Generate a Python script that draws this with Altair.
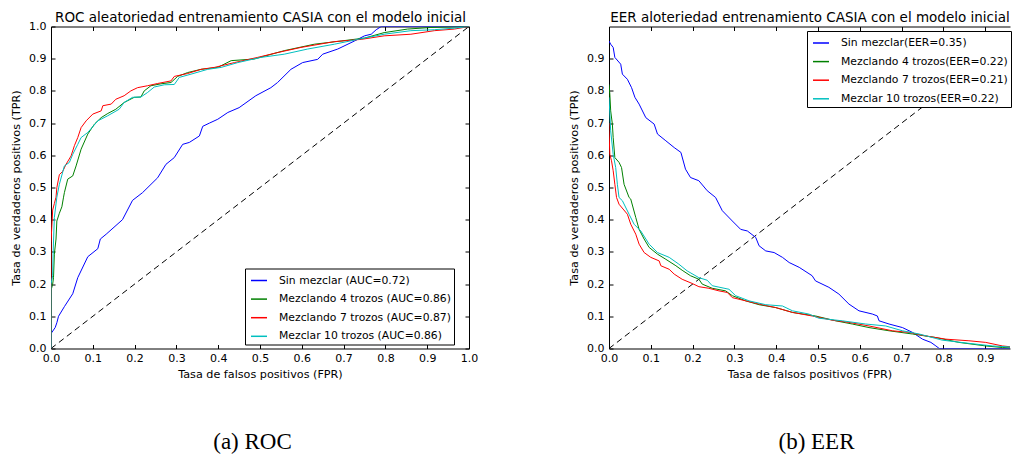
import altair as alt
import pandas as pd

# ------------------------------------------------------------------ data
ROC_LABELS = ["Sin mezclar (AUC=0.72)", "Mezclando 4 trozos (AUC=0.86)",
              "Mezclando 7 trozos (AUC=0.87)", "Mezclar 10 trozos (AUC=0.86)"]
EER_LABELS = ["Sin mezclar(EER=0.35)", "Mezclando 4 trozos(EER=0.22)",
              "Mezclando 7 trozos(EER=0.21)", "Mezclar 10 trozos(EER=0.22)"]
COLORS = ["#0000ff", "#008000", "#ff0000", "#00bfbf"]

X_TICKS_ROC = [0.0, 0.1, 0.2, 0.3, 0.4, 0.5, 0.6, 0.7, 0.8, 0.9, 1.0]
X_TICKS_EER = [0.0, 0.1, 0.2, 0.3, 0.4, 0.5, 0.6, 0.7, 0.8, 0.9]
Y_TICKS_ROC = [0.0, 0.1, 0.2, 0.3, 0.4, 0.5, 0.6, 0.7, 0.8, 0.9, 1.0]
Y_TICKS_EER = [0.0, 0.1, 0.2, 0.3, 0.4, 0.5, 0.6, 0.7, 0.8, 0.9]
X_MAX_ROC = 1.0
X_MAX_EER = 0.9593   # the reference image is cut off on the right of this panel

DIAG_X = [0.0, 1.0]
DIAG_Y = [0.0, 1.0]

# ROC curves (FPR, TPR)
ROC_SIN_FPR = [0, 0, 0.002, 0.01, 0.014, 0.018, 0.032, 0.052, 0.064, 0.088,
               0.112, 0.118, 0.132, 0.171, 0.195, 0.219, 0.255, 0.275, 0.295, 0.315,
               0.331, 0.355, 0.363, 0.379, 0.399, 0.423, 0.45, 0.49, 0.526, 0.542,
               0.574, 0.602, 0.638, 0.65, 0.686, 0.726, 0.75, 0.766, 0.778, 0.79, 1.0]
ROC_SIN_TPR = [0, 0.045, 0.05, 0.065, 0.08, 0.10, 0.13, 0.17, 0.22, 0.285,
               0.31, 0.34, 0.355, 0.40, 0.46, 0.484, 0.53, 0.572, 0.593, 0.634,
               0.64, 0.66, 0.69, 0.70, 0.712, 0.733, 0.748, 0.785, 0.81, 0.826,
               0.867, 0.888, 0.898, 0.914, 0.93, 0.955, 0.971, 0.976, 0.99, 1.0, 1.0]

ROC_M4_FPR = [0, 0, 0.004, 0.006, 0.008, 0.012, 0.014, 0.02, 0.026, 0.03,
              0.032, 0.04, 0.052, 0.06, 0.072, 0.088, 0.104, 0.12, 0.136, 0.155,
              0.175, 0.199, 0.215, 0.223, 0.239, 0.263, 0.287, 0.303, 0.327, 0.359,
              0.399, 0.431, 0.486, 0.558, 0.63, 0.694, 0.75, 0.797, 0.853, 0.909,
              0.957, 1.0]
ROC_M4_TPR = [0, 0.18, 0.20, 0.22, 0.293, 0.34, 0.396, 0.42, 0.44, 0.47,
              0.484, 0.526, 0.536, 0.567, 0.619, 0.666, 0.697, 0.717, 0.73, 0.743,
              0.764, 0.78, 0.781, 0.80, 0.816, 0.822, 0.826, 0.845, 0.857, 0.867,
              0.873, 0.894, 0.899, 0.925, 0.945, 0.955, 0.964, 0.981, 0.992, 0.997,
              0.999, 1.0]

ROC_M7_FPR = [0, 0, 0.002, 0.004, 0.008, 0.012, 0.014, 0.02, 0.028, 0.036,
              0.048, 0.056, 0.064, 0.072, 0.084, 0.1, 0.12, 0.124, 0.144, 0.155,
              0.175, 0.191, 0.207, 0.231, 0.255, 0.287, 0.295, 0.327, 0.359, 0.391,
              0.439, 0.494, 0.542, 0.598, 0.678, 0.742, 0.797, 0.861, 0.917, 0.965, 1.0]
ROC_M7_TPR = [0, 0.33, 0.38, 0.43, 0.45, 0.47, 0.50, 0.54, 0.55, 0.572,
              0.598, 0.63, 0.655, 0.686, 0.707, 0.728, 0.738, 0.754, 0.759, 0.774,
              0.785, 0.80, 0.81, 0.816, 0.823, 0.831, 0.845, 0.854, 0.867, 0.873,
              0.888, 0.904, 0.919, 0.935, 0.953, 0.96, 0.971, 0.976, 0.987, 0.992, 1.0]

ROC_M10_FPR = [0, 0, 0.004, 0.005, 0.008, 0.014, 0.02, 0.032, 0.044, 0.052,
               0.064, 0.072, 0.088, 0.112, 0.136, 0.163, 0.175, 0.195, 0.215, 0.231,
               0.247, 0.271, 0.295, 0.307, 0.335, 0.375, 0.407, 0.447, 0.502, 0.558,
               0.614, 0.678, 0.734, 0.797, 0.861, 0.917, 0.965, 1.0]
ROC_M10_TPR = [0, 0.2, 0.226, 0.293, 0.407, 0.47, 0.51, 0.567, 0.578, 0.603,
               0.634, 0.655, 0.671, 0.707, 0.723, 0.743, 0.764, 0.78, 0.781, 0.795,
               0.812, 0.819, 0.82, 0.842, 0.852, 0.867, 0.873, 0.888, 0.904, 0.914,
               0.93, 0.945, 0.96, 0.976, 0.987, 0.99, 0.995, 1.0]

# EER curves (FPR, FNR)
EER_SIN_FPR = [0, 0.004, 0.01, 0.014, 0.028, 0.032, 0.044, 0.054, 0.062, 0.072,
               0.088, 0.108, 0.116, 0.136, 0.156, 0.172, 0.183, 0.195, 0.215, 0.235,
               0.255, 0.271, 0.295, 0.315, 0.331, 0.351, 0.359, 0.375, 0.395, 0.415,
               0.431, 0.455, 0.486, 0.494, 0.526, 0.55, 0.574, 0.598, 0.63, 0.642,
               0.646, 0.67, 0.702, 0.726, 0.75, 0.77, 0.782, 0.79, 1.0]
EER_SIN_FNR = [0.955, 0.945, 0.935, 0.904, 0.883, 0.852, 0.836, 0.81, 0.78, 0.759,
               0.717, 0.697, 0.666, 0.645, 0.624, 0.609, 0.557, 0.531, 0.521, 0.49,
               0.469, 0.428, 0.396, 0.37, 0.365, 0.345, 0.319, 0.303, 0.298, 0.283,
               0.267, 0.252, 0.226, 0.21, 0.19, 0.169, 0.138, 0.117, 0.107, 0.101,
               0.086, 0.076, 0.065, 0.05, 0.029, 0.019, 0.008, 0.0, 0.0]

EER_M4_FPR = [0, 0.002, 0.004, 0.008, 0.01, 0.014, 0.024, 0.03, 0.036, 0.048,
              0.052, 0.064, 0.072, 0.084, 0.096, 0.116, 0.136, 0.16, 0.175, 0.195,
              0.215, 0.223, 0.247, 0.279, 0.295, 0.327, 0.359, 0.399, 0.439, 0.494,
              0.542, 0.582, 0.622, 0.67, 0.726, 0.782, 0.837, 0.901, 0.941, 0.981, 1.0]
EER_M4_FNR = [0.82, 0.79, 0.738, 0.697, 0.655, 0.593, 0.578, 0.562, 0.51, 0.469,
              0.464, 0.407, 0.37, 0.34, 0.314, 0.293, 0.277, 0.257, 0.243, 0.226,
              0.215, 0.2, 0.187, 0.179, 0.164, 0.148, 0.136, 0.127, 0.112, 0.101,
              0.086, 0.076, 0.065, 0.055, 0.045, 0.034, 0.019, 0.008, 0.003, 0.001, 0.0]

EER_M7_FPR = [0, 0.0, 0.002, 0.006, 0.01, 0.014, 0.018, 0.024, 0.044, 0.052,
              0.064, 0.072, 0.084, 0.1, 0.12, 0.124, 0.144, 0.156, 0.175, 0.199,
              0.215, 0.239, 0.263, 0.283, 0.295, 0.327, 0.359, 0.399, 0.439, 0.486,
              0.534, 0.574, 0.622, 0.678, 0.718, 0.758, 0.806, 0.861, 0.901, 0.941,
              0.977, 1.0]
EER_M7_FNR = [0.70, 0.676, 0.603, 0.583, 0.552, 0.51, 0.469, 0.448, 0.417, 0.386,
              0.355, 0.324, 0.298, 0.283, 0.272, 0.257, 0.246, 0.231, 0.215, 0.202,
              0.192, 0.187, 0.179, 0.174, 0.158, 0.148, 0.138, 0.127, 0.112, 0.101,
              0.088, 0.081, 0.07, 0.055, 0.05, 0.039, 0.029, 0.024, 0.019, 0.008,
              0.003, 0.0]

EER_M10_FPR = [0, 0.004, 0.01, 0.016, 0.02, 0.024, 0.032, 0.048, 0.06, 0.076,
               0.096, 0.116, 0.144, 0.167, 0.187, 0.215, 0.235, 0.247, 0.287, 0.303,
               0.335, 0.375, 0.415, 0.439, 0.478, 0.502, 0.558, 0.614, 0.662, 0.702,
               0.742, 0.797, 0.861, 0.917, 0.981, 1.0]
EER_M10_FNR = [0.78, 0.676, 0.603, 0.562, 0.51, 0.469, 0.459, 0.417, 0.386, 0.365,
               0.324, 0.298, 0.283, 0.262, 0.241, 0.22, 0.212, 0.195, 0.184, 0.164,
               0.148, 0.136, 0.132, 0.117, 0.107, 0.094, 0.086, 0.076, 0.07, 0.055,
               0.045, 0.026, 0.016, 0.008, 0.003, 0.0]

ROC_TITLE = "ROC aleatoriedad entrenamiento CASIA con el modelo inicial"
EER_TITLE = "EER aloteriedad entrenamiento CASIA con el modelo inicial"
X_TITLE = "Tasa de falsos positivos (FPR)"
Y_TITLE = "Tasa de verdaderos positivos (TPR)"


# ------------------------------------------------------------------ helpers
def make_df(labels, xs_list, ys_list):
    rows = []
    for lab, xs, ys in zip(labels, xs_list, ys_list):
        for i, (x, y) in enumerate(zip(xs, ys)):
            rows.append({"serie": lab, "x": x, "y": y, "i": i})
    return pd.DataFrame(rows)


DIAG_DF = pd.DataFrame({"x": DIAG_X, "y": DIAG_Y})
SANS = "DejaVu Sans"
AX = dict(labelFont=SANS, labelFontSize=11, labelColor="black",
          titleFont=SANS, titleFontSize=11.2, titleFontWeight="normal",
          titleColor="black", tickColor="black", tickWidth=1,
          labelFlush=False, grid=False, domain=False, offset=-4, tickSize=4)
PLOT_H = 322


def panel(df, labels, top_title, x_ticks, y_ticks, x_max, width,
          leg_x, leg_y, caption, cap_dx, right_side_visible):
    xs = alt.Scale(domain=[0, x_max], nice=False, zero=False)
    ys = alt.Scale(domain=[0, 1], nice=False, zero=False)
    diag = alt.Chart(DIAG_DF).mark_line(
        strokeDash=[6, 4], color="black", strokeWidth=1, clip=True
    ).encode(
        x=alt.X("x:Q", scale=xs, axis=alt.Axis(
            orient="top", values=x_ticks, labels=False, title=top_title,
            titlePadding=2, **{**AX, "titleFontSize": 13.5})),
        y=alt.Y("y:Q", scale=ys, axis=alt.Axis(
            orient="right", values=y_ticks, labels=False, title=None,
            ticks=right_side_visible, **AX)),
    )
    lines = alt.Chart(df).mark_line(strokeWidth=1, clip=True).encode(
        x=alt.X("x:Q", scale=xs, axis=alt.Axis(
            orient="bottom", values=x_ticks, format=".1f", title=X_TITLE,
            labelPadding=4, titlePadding=5, **AX)),
        y=alt.Y("y:Q", scale=ys, axis=alt.Axis(
            orient="left", values=y_ticks, format=".1f", title=Y_TITLE,
            labelPadding=5, titlePadding=7, **AX)),
        color=alt.Color("serie:N", scale=alt.Scale(domain=labels, range=COLORS),
                        legend=alt.Legend(
                            orient="none", legendX=leg_x, legendY=leg_y, title=None,
                            symbolType="stroke", symbolSize=256,
                            symbolStrokeWidth=1.5, labelFont=SANS,
                            labelFontSize=10.8, labelColor="black", labelOffset=11,
                            rowPadding=4.6, padding=3, symbolOffset=2,
                            strokeColor="black", fillColor="white",
                            labelLimit=400, cornerRadius=0)),
        order="i:Q",
    )
    if right_side_visible:
        view = alt.ViewBackground(stroke="black", strokeWidth=1)
    else:
        # frame drawn on top, bottom and left only (right edge is cut off)
        view = alt.ViewBackground(
            stroke="black", strokeWidth=1,
            strokeDash=[width, PLOT_H, width + PLOT_H, 0])
    return alt.layer(diag, lines).resolve_axis(
        x="independent", y="independent"
    ).properties(
        width=width, height=PLOT_H, view=view,
        title=alt.TitleParams(caption, orient="bottom", anchor="middle",
                              frame="group", font="Liberation Serif", fontSize=23,
                              fontWeight="normal", color="black", offset=51,
                              dx=cap_dx),
    )


roc_df = make_df(ROC_LABELS, [ROC_SIN_FPR, ROC_M4_FPR, ROC_M7_FPR, ROC_M10_FPR],
                 [ROC_SIN_TPR, ROC_M4_TPR, ROC_M7_TPR, ROC_M10_TPR])
eer_df = make_df(EER_LABELS, [EER_SIN_FPR, EER_M4_FPR, EER_M7_FPR, EER_M10_FPR],
                 [EER_SIN_FNR, EER_M4_FNR, EER_M7_FNR, EER_M10_FNR])

left = panel(roc_df, ROC_LABELS, ROC_TITLE, X_TICKS_ROC, Y_TICKS_ROC, X_MAX_ROC,
             418, 194, 242, "(a) ROC", -7.5, True)
right = panel(eer_df, EER_LABELS, EER_TITLE, X_TICKS_EER, Y_TICKS_EER, X_MAX_EER,
              401, 198, 4.5, "(b) EER", 7, False)

chart = alt.hconcat(left, right, spacing=89).resolve_scale(
    color="independent"
).properties(
    padding={"left": 2, "top": 1.5, "right": 0, "bottom": 0}
).configure(background="white")

chart.save("out.html", embed_options={"renderer": "svg", "actions": False})
